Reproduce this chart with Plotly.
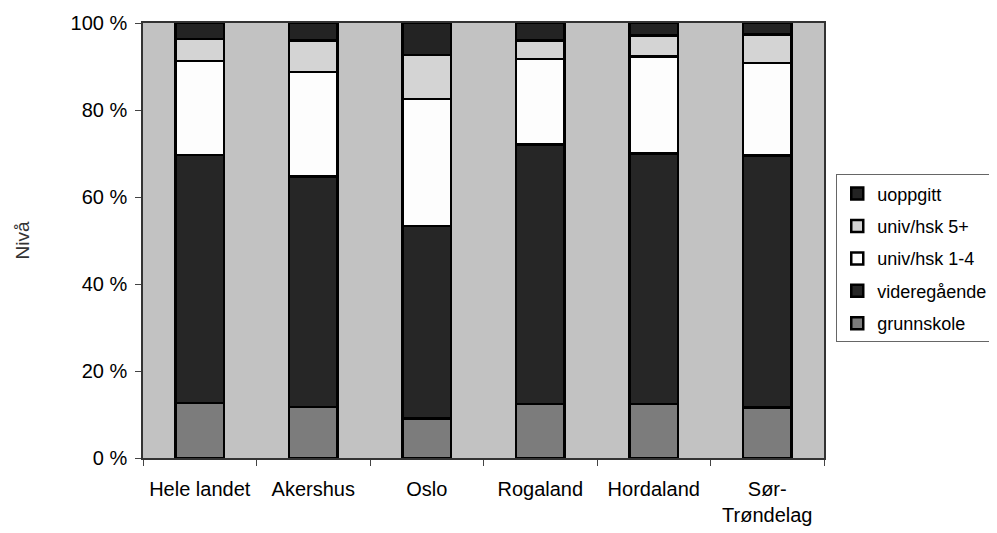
import plotly.graph_objects as go

categories = ["Hele landet", "Akershus", "Oslo", "Rogaland", "Hordaland", "Sør-<br>Trøndelag"]
grunnskole = [12.7, 11.7, 9.1, 12.4, 12.4, 11.6]
videregaende = [57.0, 53.0, 44.2, 59.7, 57.6, 57.9]
univ_1_4 = [21.6, 24.0, 29.2, 19.6, 22.3, 21.3]
univ_5 = [5.0, 7.3, 10.1, 4.3, 4.8, 6.6]
uoppgitt = [3.7, 4.0, 7.4, 4.0, 2.9, 2.6]
y_ticks = [0, 20, 40, 60, 80, 100]
y_tick_labels = ["0 %", "20 %", "40 %", "60 %", "80 %", "100 %"]

series = [
    ("grunnskole", grunnskole, "#7c7c7c"),
    ("videregående", videregaende, "#262626"),
    ("univ/hsk 1-4", univ_1_4, "#fdfdfd"),
    ("univ/hsk 5+", univ_5, "#d4d4d4"),
    ("uoppgitt", uoppgitt, "#232323"),
]

fig = go.Figure()
n = len(series)
for i, (name, vals, col) in enumerate(series):
    fig.add_trace(go.Bar(
        x=categories, y=vals, name=name, legendgroup=name,
        legendrank=1000 + (n - i),
        marker=dict(color=col, line=dict(color="#000000", width=2.5)),
    ))

FONT = "Liberation Sans, Arial, Helvetica, sans-serif"
fig.update_layout(
    width=989, height=525,
    barmode="stack",
    bargap=0.57,
    paper_bgcolor="white",
    plot_bgcolor="#c2c2c2",
    margin=dict(l=135, r=173, t=15, b=75, autoexpand=False),
    font=dict(family=FONT, size=20, color="#000000"),
    legend=dict(
        x=1.018, y=0.652, xanchor="left", yanchor="top",
        traceorder="grouped",
        bgcolor="white", bordercolor="#666666", borderwidth=1,
        font=dict(family=FONT, size=18, color="#000000"),
        tracegroupgap=6,
    ),
    showlegend=True,
)
fig.update_yaxes(
    range=[0, 100],
    tickvals=y_ticks, ticktext=y_tick_labels,
    ticks="outside", ticklen=6, tickcolor="#444444", ticklabelstandoff=4,
    showline=True, linecolor="#333333", linewidth=1.5, mirror=True,
    showgrid=False, zeroline=False,
    title=dict(text="Nivå", font=dict(family=FONT, size=19, color="#333333"), standoff=36),
)
fig.update_xaxes(
    ticks="outside", ticklen=6, tickcolor="#444444", tickson="boundaries",
    ticklabelstandoff=12,
    showline=True, linecolor="#333333", linewidth=1.5, mirror=True,
    showgrid=False,
)

fig.write_html("out.html")
